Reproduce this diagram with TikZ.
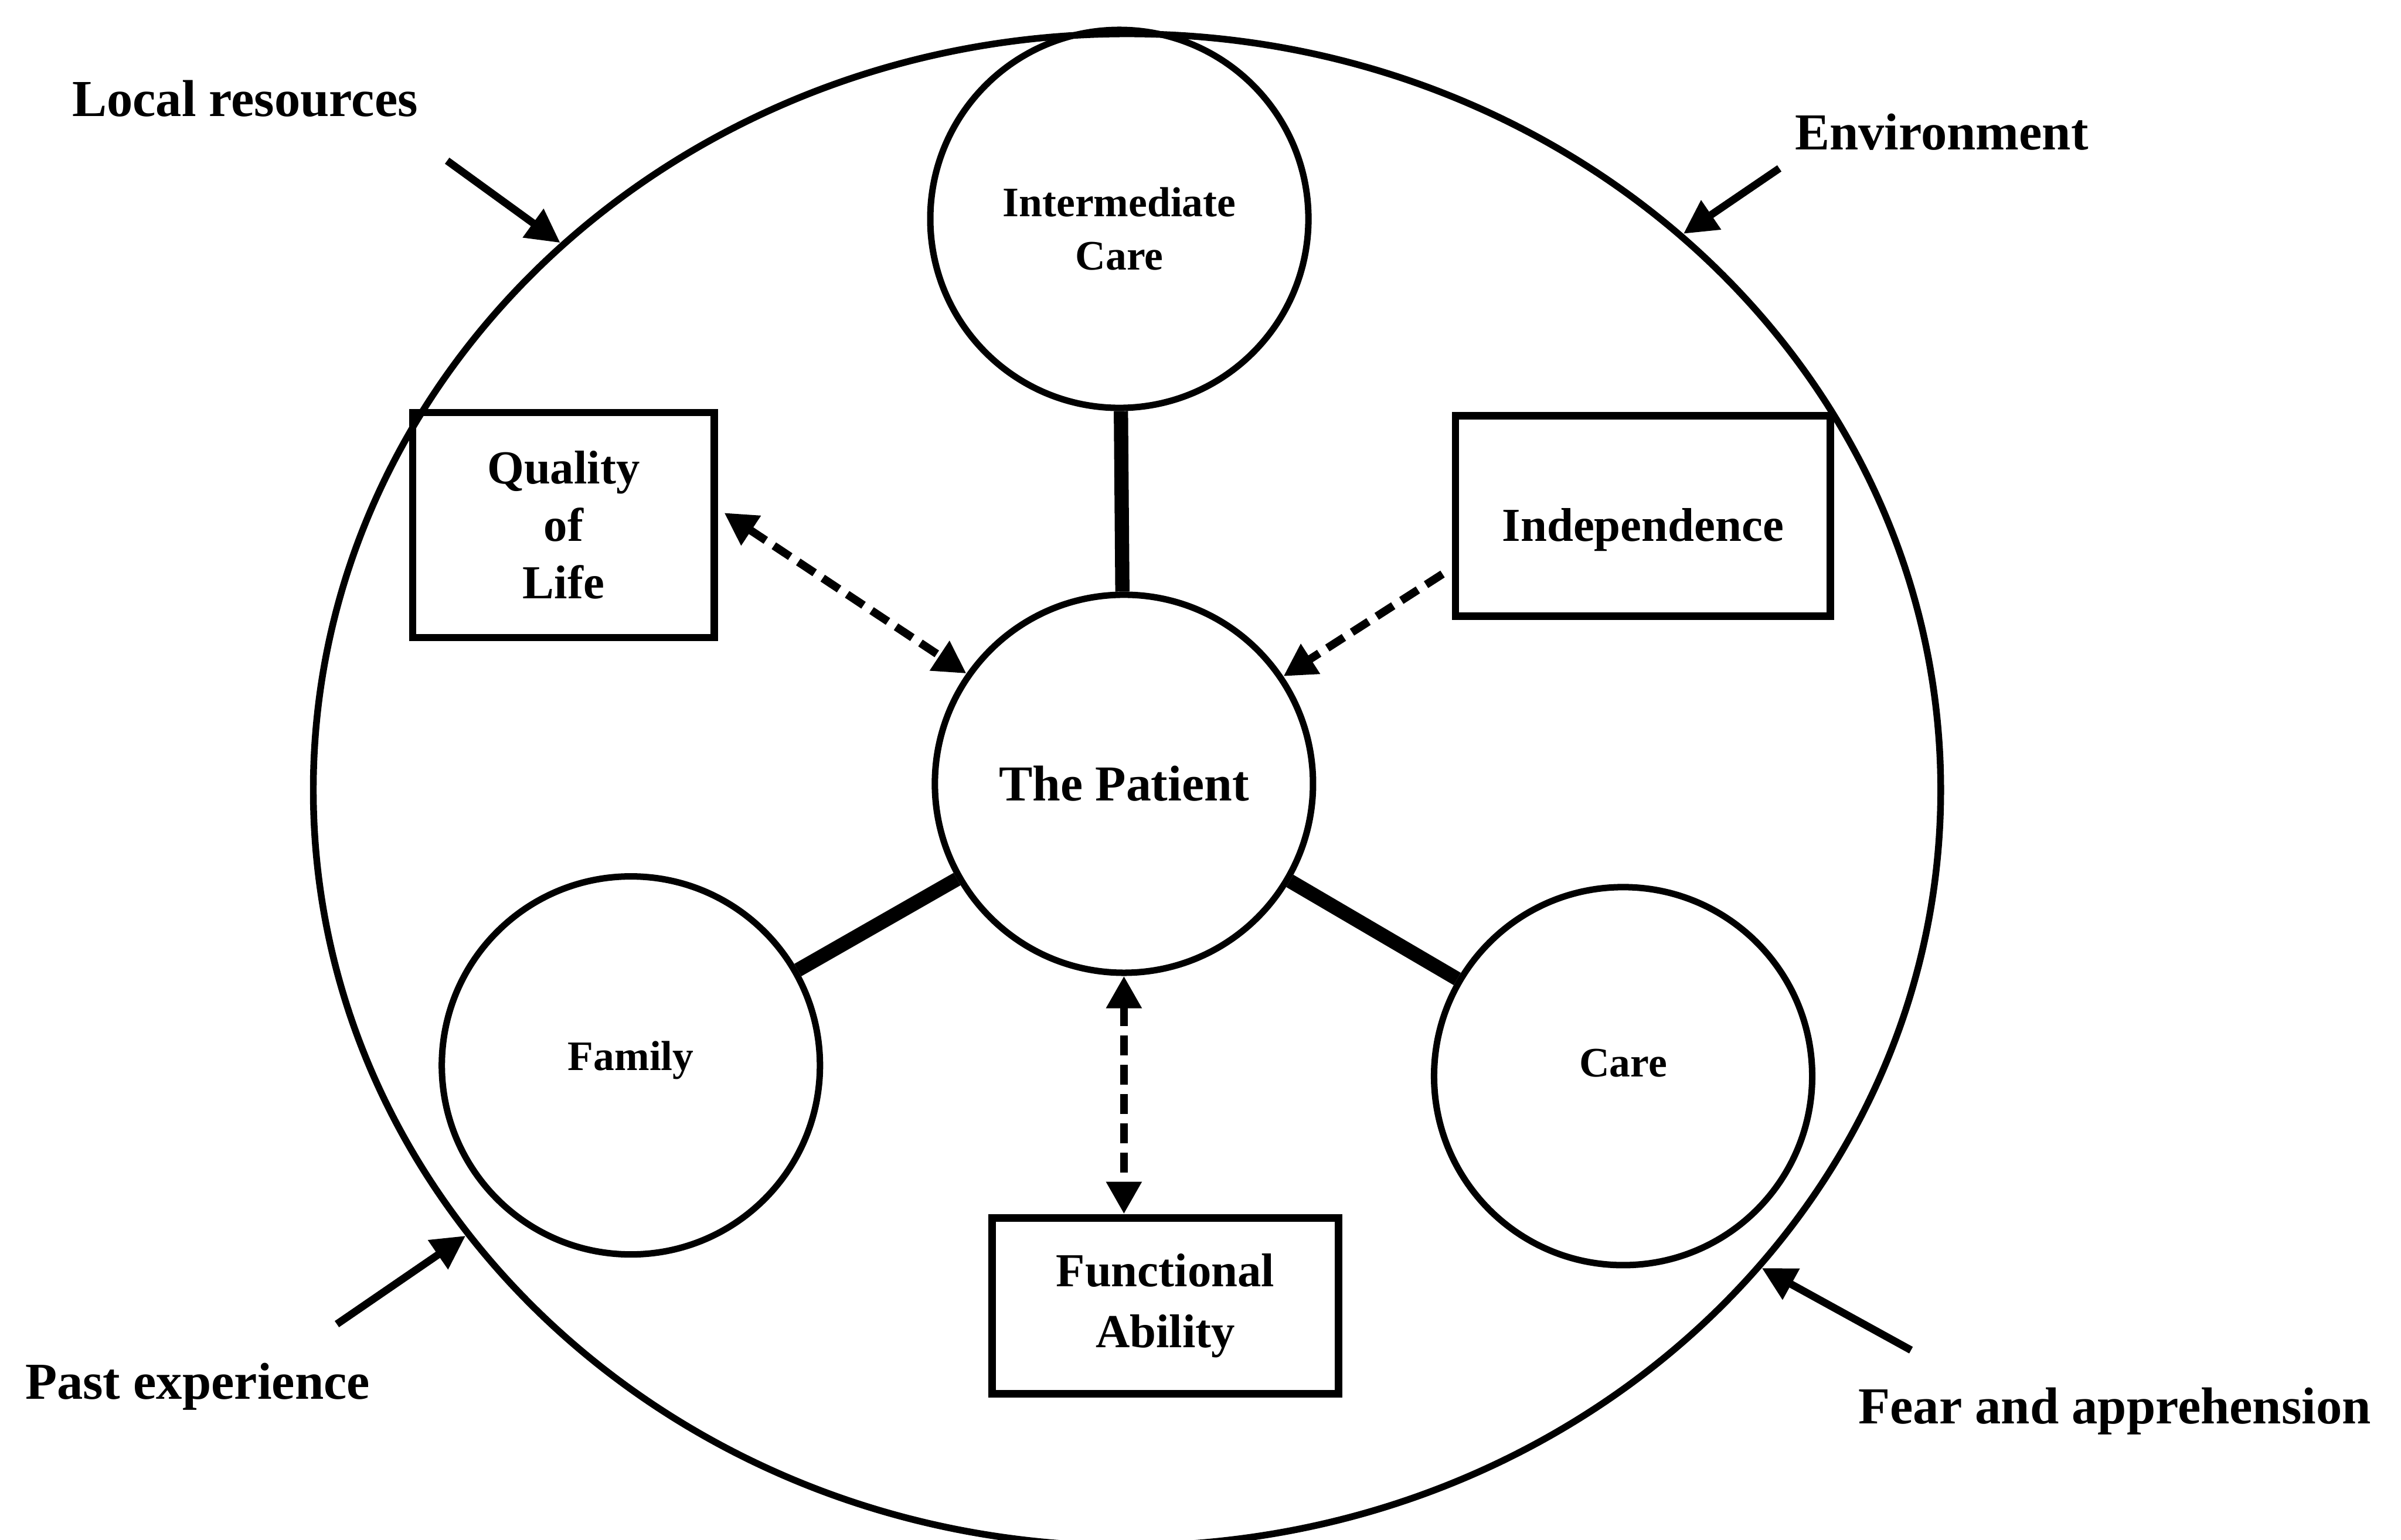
\documentclass[tikz,border=0pt]{standalone}
\usepackage{fontspec}
\setmainfont{Liberation Serif}
\usetikzlibrary{arrows.meta,calc,shapes.geometric}

\begin{document}
\begin{tikzpicture}[x=0.02cm,y=-0.02cm,
  ring/.style={draw,ellipse,line width=2.5pt,inner sep=0pt},
  unit/.style={draw,circle,line width=2.4pt,minimum size=4.94cm,inner sep=0pt,
    align=center,font=\fontsize{15.6}{19.8}\selectfont\bfseries},
  factor/.style={draw,rectangle,line width=2.8pt,inner sep=0pt,
    align=center,font=\fontsize{17.6}{21.3}\selectfont\bfseries},
  tie/.style={line width=5.3pt},
  headtip/.tip={Triangle[length=12pt,width=12.5pt]},
  duallink/.style={line width=3pt,dash pattern=on 7.3pt off 3.6pt,headtip-headtip},
  onelink/.style={line width=3pt,dash pattern=on 7.3pt off 3.6pt,-headtip},
  pressure/.style={line width=2.8pt,-{Triangle[length=12.5pt,width=12.5pt]}},
  outer/.style={font=\fontsize{19.3}{23}\selectfont\bfseries,anchor=base,inner sep=0pt}
]
\useasboundingbox (0,0) rectangle (1568,1006);

% the surrounding setting
\node[ring,minimum width=21.26cm,minimum height=19.76cm] (setting) at (736,516) {};

% the patient and the services around
\node[unit,font=\fontsize{18.7}{22}\selectfont\bfseries] (pt) at (734,512) {The Patient};
\node[unit,text height=38pt,text depth=0pt] (ic) at (731,143) {Intermediate\\Care};
\node[unit,text height=8pt,text depth=4.2pt] (fam) at (412,696) {Family};
\node[unit,text height=6pt,text depth=5.6pt] (care) at (1060,703) {Care};

% outcomes
\node[factor,minimum width=3.94cm,minimum height=2.94cm] (qol) at (368,343) {Quality\\of\\Life};
\node[factor,minimum width=4.9cm,minimum height=2.62cm,
  text height=18.6pt,text depth=0pt] (ind) at (1073,337) {Independence};
\node[factor,minimum width=4.52cm,minimum height=2.3cm,
  font=\fontsize{17.6}{22.7}\selectfont\bfseries] (fa) at (761,853) {Functional\\Ability};

% solid links
\draw[tie] (ic) -- (pt);
\draw[tie] (fam) -- (pt);
\draw[tie] (care) -- (pt);

% dashed links
\draw[duallink] ($(qol.east)+(4,-8)$) -- (pt.145);
\draw[onelink] ($(ind.west)+(-6,38)$) -- (pt.34);
\draw[duallink] (pt.south) -- (pt.south |- fa.north);

% outside influences
\node[outer] (lr) at (160,76) {Local resources};
\node[outer] (env) at (1268,98) {Environment};
\node[outer] (pe) at (129,914) {Past experience};
\node[outer] (fear) at (1381,930) {Fear and apprehension};

\coordinate (lrTail) at (292,105);
\coordinate (envTail) at (1162,110);
\coordinate (peTail) at (220,865);
\coordinate (fearTail) at (1248,882);

\draw[pressure] (lrTail) -- (setting.136);
\draw[pressure] (envTail) -- (setting.45);
\draw[pressure] (peTail) -- (setting.214);
\draw[pressure] (fearTail) -- (setting.323);
\end{tikzpicture}
\end{document}
